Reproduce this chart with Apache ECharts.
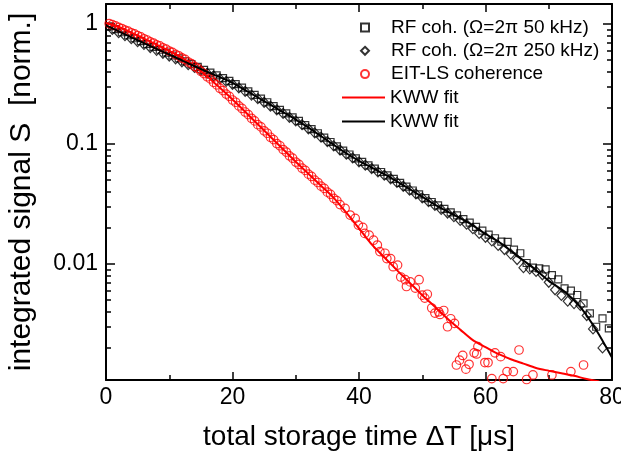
<!DOCTYPE html>
<html><head><meta charset="utf-8">
<script src="https://cdn.jsdelivr.net/npm/echarts@6.0.0/dist/echarts.min.js"></script>
<style>html,body{margin:0;padding:0;background:#fff}#c{width:621px;height:455px}</style>
</head><body><div id="c"></div>
<script>
// ---- data (time in µs, signal normalised) ----
const xTickValues = [0, 20, 40, 60, 80];
const yMajorTicks = [0.01, 0.1, 1];
const yMinorTicks = [0.002,0.003,0.004,0.005,0.006,0.007,0.008,0.009,
                     0.02,0.03,0.04,0.05,0.06,0.07,0.08,0.09,
                     0.2,0.3,0.4,0.5,0.6,0.7,0.8,0.9];
const legendNames = ['RF coh. (\u03A9=2\u03C0 50 kHz)', 'RF coh. (\u03A9=2\u03C0 250 kHz)', 'EIT-LS coherence', 'KWW fit (EIT)', 'KWW fit (RF)'];

const rf50 = [[0.5,0.959],[1.5,0.906],[2.5,0.855],[3.5,0.807],[4.5,0.762],[5.5,0.721],[6.5,0.682],[7.5,0.646],[8.5,0.611],[9.5,0.578],[10.5,0.547],[11.5,0.518],[12.5,0.490],[13.5,0.463],[14.5,0.439],[15.5,0.416],[16.5,0.394],[17.5,0.374],[18.5,0.355],[19.5,0.336],[20.5,0.316],[21.5,0.295],[22.5,0.275],[23.5,0.257],[24.5,0.239],[25.5,0.223],[26.5,0.207],[27.5,0.193],[28.5,0.180],[29.5,0.167],[30.5,0.156],[31.5,0.144],[32.5,0.133],[33.5,0.123],[34.5,0.113],[35.5,0.104],[36.5,0.0957],[37.5,0.0883],[38.5,0.0818],[39.5,0.0760],[40.5,0.0710],[41.5,0.0665],[42.5,0.0624],[43.5,0.0585],[44.5,0.0548],[45.5,0.0512],[46.5,0.0475],[47.5,0.0442],[48.5,0.0410],[49.5,0.0381],[50.5,0.0354],[51.5,0.0329],[52.5,0.0308],[53.5,0.0288],[54.5,0.0270],[55.5,0.0254],[56.5,0.0237],[57.5,0.0221],[58.5,0.0204],[59.5,0.0190],[60.5,0.0176],[61.5,0.0164],[62.5,0.0154],[63.5,0.0153],[64.5,0.0132],[65.5,0.0123],[66.5,0.0102],[67.5,0.00933],[68.5,0.00920],[69.5,0.00902],[70.5,0.00809],[71.5,0.00745],[72.5,0.00627],[73.5,0.00600],[74.5,0.00552],[75.5,0.00470],[76.5,0.00388],[77.5,0.00300],[78.5,0.00352],[79.5,0.00291]];

const rf250 = [[1,0.902],[2,0.847],[3,0.800],[4,0.755],[5,0.713],[6,0.676],[7,0.638],[8,0.604],[9,0.571],[10,0.542],[11,0.513],[12,0.485],[13,0.459],[14,0.435],[15,0.411],[16,0.390],[17,0.370],[18,0.351],[19,0.333],[20,0.315],[21,0.294],[22,0.275],[23,0.256],[24,0.239],[25,0.223],[26,0.207],[27,0.193],[28,0.180],[29,0.167],[30,0.156],[31,0.145],[32,0.134],[33,0.124],[34,0.114],[35,0.105],[36,0.0966],[37,0.0891],[38,0.0824],[39,0.0766],[40,0.0711],[41,0.0667],[42,0.0625],[43,0.0586],[44,0.0550],[45,0.0514],[46,0.0479],[47,0.0445],[48,0.0413],[49,0.0384],[50,0.0356],[51,0.0331],[52,0.0308],[53,0.0285],[54,0.0266],[55,0.0248],[56,0.0231],[57,0.0215],[58,0.0197],[59,0.0180],[60,0.0167],[61,0.0156],[62,0.0143],[63,0.0132],[64,0.0121],[65,0.0109],[66,0.00933],[67,0.00912],[68,0.00867],[69,0.00813],[70,0.00705],[71,0.00610],[72,0.00547],[73,0.00490],[74,0.00468],[75,0.00452],[76,0.00372],[77,0.00288],[78.5,0.00200]];

const eitData = [[0.5,1.01],[1,0.988],[1.5,0.966],[2,0.938],[2.5,0.918],[3,0.891],[3.5,0.872],[4,0.846],[4.5,0.828],[5,0.801],[5.5,0.782],[6,0.754],[6.5,0.737],[7,0.711],[7.5,0.695],[8,0.671],[8.5,0.657],[9,0.633],[9.5,0.619],[10,0.596],[10.5,0.581],[11,0.558],[11.5,0.544],[12,0.522],[12.5,0.507],[13,0.483],[13.5,0.468],[14,0.444],[14.5,0.428],[15,0.404],[15.5,0.387],[16,0.364],[16.5,0.349],[17,0.327],[17.5,0.311],[18,0.292],[18.5,0.279],[19,0.261],[19.5,0.250],[20,0.233],[20.5,0.223],[21,0.208],[21.5,0.198],[22,0.185],[22.5,0.176],[23,0.164],[23.5,0.156],[24,0.145],[24.5,0.139],[25,0.129],[25.5,0.123],[26,0.114],[26.5,0.109],[27,0.101],[27.5,0.0968],[28,0.0900],[28.5,0.0858],[29,0.0798],[29.5,0.0762],[30,0.0708],[30.5,0.0676],[31,0.0629],[31.5,0.0603],[32,0.0561],[32.5,0.0537],[33,0.0500],[33.5,0.0478],[34,0.0446],[34.5,0.0427],[35,0.0397],[35.5,0.0381],[36,0.0353],[36.5,0.0338],[37,0.0313],
[37.8,0.0291],[38.6,0.0256],[39.4,0.0240],[39.9,0.0211],[40.6,0.0202],[40.9,0.0180],[41.6,0.0174],[42.3,0.0158],[42.9,0.0144],[43.3,0.0127],[44.1,0.0123],[44.4,0.0111],[45.0,0.0111],[45.4,0.0095],[46.1,0.0098],[46.6,0.0078],[47.3,0.0074],[47.5,0.0065],[48.1,0.0071],[48.9,0.0063],[49.5,0.0074],[50.0,0.0055],[50.8,0.0056],[50.4,0.0052],[51.5,0.0043],[52.0,0.0039],[52.6,0.0040],[53.4,0.0041],[52.8,0.0038],[54.5,0.0035],[54.0,0.0030],[55.1,0.0032],[55.4,0.00144],[55.9,0.00158],[56.4,0.00173],[56.9,0.00133],[57.4,0.00146],[58.2,0.00182],[58.8,0.00205],[58.6,0.00178],[59.9,0.00151],[60.4,0.00151],[61.5,0.00182],[62.4,0.00169],[61.0,0.00111],[63.4,0.00127],[64.4,0.00127],[62.8,0.00111],[65.3,0.00192],[66.5,0.00109],[67.5,0.00119],[70.5,0.00119],[73.5,0.00127],[75.5,0.00144]];

const eitFit = [[0,1.02],[2,0.945],[4,0.85],[6,0.757],[8,0.674],[10,0.598],[12,0.524],[14,0.446],[16,0.366],[18,0.294],[20,0.235],[22,0.186],[24,0.146],[26,0.115],[28,0.0906],[30,0.0713],[32,0.0565],[34,0.0449],[36,0.0356],[38,0.0268],[40,0.0198],[42,0.0146],[44,0.0114],[46,0.0089],[48,0.0070],[50,0.0055],[52,0.0044],[54,0.0035],[56,0.00284],[58,0.00232],[60,0.00203],[62,0.00178],[64,0.00161],[66,0.00148],[68,0.00136],[70,0.00129],[72,0.00123],[74,0.00117],[76,0.00110],[78,0.00105]];

const rfFit = [[0,0.977],[2.5,0.845],[5,0.733],[7.5,0.638],[10,0.556],[12.5,0.484],[15,0.422],[17.5,0.370],[20,0.324],[22.5,0.272],[25,0.228],[27.5,0.191],[30,0.160],[32.5,0.132],[35,0.107],[37.5,0.0871],[40,0.0724],[42.5,0.0617],[45,0.0525],[47.5,0.0437],[50,0.0363],[52.5,0.0302],[55,0.0257],[57.5,0.0218],[60,0.0178],[62.5,0.0148],[65,0.0117],[67.5,0.00933],[70,0.00724],[72.5,0.00589],[75,0.00437],[77.5,0.00282],[80,0.00166]];

// ---- chart ----
const FONT = '"Liberation Sans", Arial, Helvetica, sans-serif';
const Y_MIN = 0.00108, Y_MAX = 1.47;

function yAxisDef(position, ticks, len, withLabel, withLine) {
  return {
    type: 'log', logBase: 10, min: Y_MIN, max: Y_MAX, position: position,
    axisLine: { show: withLine, lineStyle: { color: '#000', width: 2 } },
    axisTick: { show: true, inside: true, length: len, customValues: ticks, lineStyle: { color: '#000', width: 1.5 } },
    minorTick: { show: false }, splitLine: { show: false }, minorSplitLine: { show: false },
    axisLabel: withLabel ? {
      show: true, customValues: yMajorTicks, margin: 8, color: '#000', fontSize: 23, fontFamily: FONT,
      formatter: function (v) { return v >= 0.5 ? '1' : (v >= 0.05 ? '0.1' : '0.01'); }
    } : { show: false },
    name: withLabel ? 'integrated signal S  [norm.]' : '',
    nameLocation: 'middle', nameGap: 69,
    nameTextStyle: { color: '#000', fontSize: 30, fontFamily: FONT }
  };
}
function xAxisDef(position, withLabel) {
  return {
    type: 'value', min: 0, max: 80, interval: 20, position: position,
    axisLine: { show: true, onZero: false, lineStyle: { color: '#000', width: 2 } },
    axisTick: { show: true, inside: true, length: 8, customValues: xTickValues, lineStyle: { color: '#000', width: 1.5 } },
    minorTick: { show: true, splitNumber: 2, length: 5, lineStyle: { color: '#000', width: 1.5 } },
    splitLine: { show: false },
    axisLabel: withLabel ? { show: true, margin: 6, color: '#000', fontSize: 23, fontFamily: FONT } : { show: false },
    name: withLabel ? 'total storage time \u0394T [\u03BCs]' : '',
    nameLocation: 'middle', nameGap: 43,
    nameTextStyle: { color: '#000', fontSize: 28, fontFamily: FONT }
  };
}

const hollow = (c) => ({ color: 'rgba(0,0,0,0)', borderColor: c, borderWidth: 1.2 });

const option = {
  animation: false,
  backgroundColor: '#fff',
  grid: { left: 106, right: 9, top: 4, bottom: 75, containLabel: false, outerBoundsMode: 'none' },
  xAxis: [xAxisDef('bottom', true), xAxisDef('top', false)],
  yAxis: [
    yAxisDef('left', yMajorTicks, 9, true, true),
    yAxisDef('left', yMinorTicks, 5, false, false),
    yAxisDef('right', yMajorTicks, 9, false, true),
    yAxisDef('right', yMinorTicks, 5, false, false)
  ],
  legend: [
    {
      data: [legendNames[0], legendNames[1], legendNames[2]],
      orient: 'vertical', left: 360, top: 18, padding: 0,
      itemWidth: 8, itemHeight: 8, itemGap: 4.3, selectedMode: false,
      textStyle: { color: '#000', fontSize: 19, fontFamily: FONT, padding: [0, 0, 0, 17] }
    },
    {
      data: [{ name: legendNames[3], icon: 'rect' }, { name: legendNames[4], icon: 'rect' }],
      orient: 'vertical', left: 342, top: 88, padding: 0,
      itemWidth: 43, itemHeight: 2, itemGap: 5, selectedMode: false,
      formatter: function () { return 'KWW fit'; },
      textStyle: { color: '#000', fontSize: 19, fontFamily: FONT }
    }
  ],
  series: [
    { name: legendNames[0], type: 'scatter', data: rf50, symbol: 'rect', symbolSize: 7, itemStyle: hollow('#000') },
    { name: legendNames[1], type: 'scatter', data: rf250, symbol: 'diamond', symbolSize: [9, 10], itemStyle: hollow('#000') },
    { name: legendNames[2], type: 'scatter', data: eitData, symbol: 'circle', symbolSize: 8.5, itemStyle: hollow('#ff0000') },
    { name: legendNames[3], type: 'line', data: eitFit, symbol: 'none', smooth: 0.3,
      lineStyle: { color: '#ff0000', width: 2 }, itemStyle: { color: '#ff0000' } },
    { name: legendNames[4], type: 'line', data: rfFit, symbol: 'none', smooth: 0.3,
      lineStyle: { color: '#000', width: 2 }, itemStyle: { color: '#000' } }
  ]
};
const chart = echarts.init(document.getElementById('c'), null, { renderer: 'canvas' });
chart.setOption(option);
</script>
</body></html>
